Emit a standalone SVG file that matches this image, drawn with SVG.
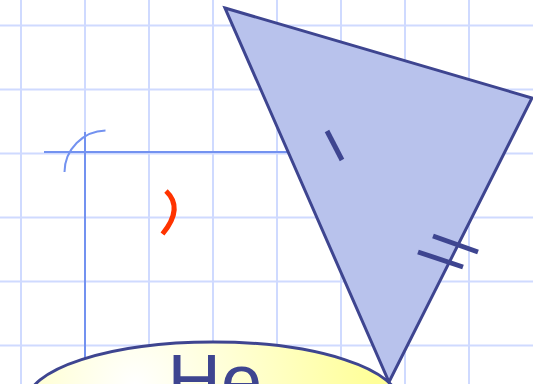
<svg xmlns="http://www.w3.org/2000/svg" width="533" height="384" viewBox="0 0 533 384">
  <defs>
    <style>
      .grid line { stroke: #cfdaff; stroke-width: 2; }
      .guide { stroke: #7392f0; stroke-width: 2; fill: none; }
      .tick { stroke: #3e4590; stroke-width: 5; }
    </style>
    <radialGradient id="glow" gradientUnits="userSpaceOnUse" cx="135" cy="385" r="240">
      <stop offset="0" stop-color="#ffffff"/>
      <stop offset="1" stop-color="#ffff99"/>
    </radialGradient>
  </defs>
  <rect width="533" height="384" fill="#ffffff"/>
  <g id="grid" class="grid">
    <line x1="21" y1="0" x2="21" y2="384"/>
    <line x1="85" y1="0" x2="85" y2="384"/>
    <line x1="149" y1="0" x2="149" y2="384"/>
    <line x1="213" y1="0" x2="213" y2="384"/>
    <line x1="277" y1="0" x2="277" y2="384"/>
    <line x1="341" y1="0" x2="341" y2="384"/>
    <line x1="405" y1="0" x2="405" y2="384"/>
    <line x1="469" y1="0" x2="469" y2="384"/>
    <line x1="0" y1="25.5" x2="533" y2="25.5"/>
    <line x1="0" y1="89.5" x2="533" y2="89.5"/>
    <line x1="0" y1="153.5" x2="533" y2="153.5"/>
    <line x1="0" y1="217.5" x2="533" y2="217.5"/>
    <line x1="0" y1="281.5" x2="533" y2="281.5"/>
    <line x1="0" y1="345.5" x2="533" y2="345.5"/>
  </g>
  <g id="connectors">
    <line class="guide" x1="44" y1="152" x2="295" y2="152"/>
    <line class="guide" x1="85" y1="132" x2="85" y2="384"/>
    <path class="guide" d="M64.5,172 A42,42 0 0 1 105.5,130.5"/>
    <path d="M166,191 Q184,208 162.5,234" fill="none" stroke="#ff3300" stroke-width="5"/>
  </g>
  <g id="ellipse-he">
    <ellipse cx="213" cy="402" rx="186" ry="60" fill="url(#glow)" stroke="#3e4590" stroke-width="3"/>
    <text x="167.5" y="406" font-family="Liberation Sans, Arial, sans-serif" font-size="74" fill="#3e4590">He</text>
  </g>
  <g id="triangle">
    <polygon points="225,8 532,98 389,382" fill="#b8c2ec" stroke="#3e4590" stroke-width="3" stroke-linejoin="miter"/>
    <line class="tick" x1="327" y1="131" x2="342" y2="160"/>
    <line class="tick" x1="433" y1="236" x2="478" y2="252"/>
    <line class="tick" x1="418" y1="252" x2="463" y2="267"/>
  </g>
</svg>
